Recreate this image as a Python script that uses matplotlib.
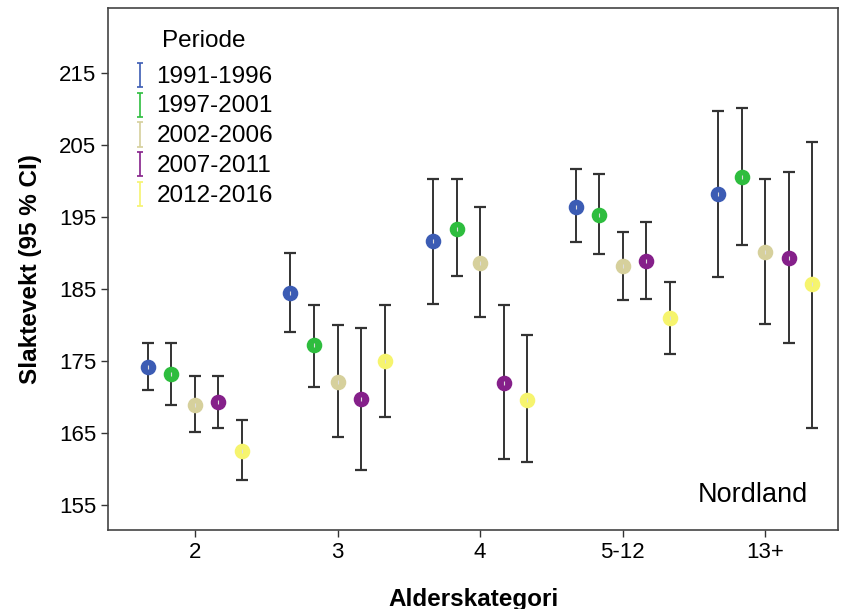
import numpy as np
import matplotlib.pyplot as plt

plt.rcParams["font.family"] = ["Liberation Sans", "DejaVu Sans"]

categories = ["2", "3", "4", "5-12", "13+"]
periods = ["1991-1996", "1997-2001", "2002-2006", "2007-2011", "2012-2016"]
colors = ["#3c5cb4", "#2ebd3e", "#d6d09c", "#85208a", "#f6f46e"]

# mean, lower CI, upper CI per period (rows) and age category (columns)
means = [
    [174.2, 184.5, 191.7, 196.5, 198.2],
    [173.3, 177.3, 193.4, 195.3, 200.6],
    [169.0, 172.2, 188.7, 188.3, 190.2],
    [169.3, 169.8, 172.0, 188.9, 189.4],
    [162.5, 175.0, 169.7, 181.0, 185.7],
]
lower = [
    [171.0, 179.1, 183.0, 191.6, 186.7],
    [169.0, 171.5, 186.9, 189.9, 191.1],
    [165.2, 164.5, 181.1, 183.5, 180.2],
    [165.8, 159.9, 161.5, 183.6, 177.5],
    [158.5, 167.3, 161.0, 176.0, 165.7],
]
upper = [
    [177.6, 190.0, 200.3, 201.7, 209.8],
    [177.6, 182.9, 200.3, 201.0, 210.2],
    [173.0, 180.0, 196.4, 193.0, 200.3],
    [173.0, 179.7, 182.9, 194.4, 201.3],
    [166.8, 182.9, 178.6, 186.0, 205.5],
]

offsets = [-0.33, -0.165, 0.0, 0.165, 0.33]

fig = plt.figure(figsize=(8.5, 6.09), dpi=100)
ax = fig.add_axes([0.127, 0.13, 0.859, 0.857])

x = np.arange(len(categories))
for i, p in enumerate(periods):
    m = np.array(means[i])
    lo = m - np.array(lower[i])
    hi = np.array(upper[i]) - m
    ax.errorbar(x + offsets[i], m, yerr=[lo, hi], fmt="none", ecolor="#333333",
                elinewidth=1.4, capsize=4.5, capthick=1.6, zorder=2)
    ax.plot(x + offsets[i], m, "o", ms=10, mfc=colors[i], mec=colors[i],
            mew=1.2, zorder=3)
    ax.plot(x + offsets[i], m, "|", ms=3, color="#dddddd", mew=0.8, zorder=4)
    # legend proxy
    ax.errorbar([np.nan], [np.nan], yerr=[[1], [1]], fmt="none", ecolor=colors[i],
                elinewidth=1.2, capsize=2.5, capthick=1.2, label=p)

ax.set_xlim(-0.61, 4.51)
ax.set_ylim(151.6, 224.1)
ax.set_xticks(x)
ax.set_xticklabels(categories)
ax.set_yticks([155, 165, 175, 185, 195, 205, 215])
ax.tick_params(labelsize=16, length=5, width=1, color="#333333")
for s in ax.spines.values():
    s.set_color("#444444")
    s.set_linewidth(1.2)

ax.set_xlabel("Alderskategori", fontsize=17.5, fontweight="bold", labelpad=18)
ax.set_ylabel("Slaktevekt (95 % CI)", fontsize=17.5, fontweight="bold", labelpad=12)

ax.text(4.30, 156.4, "Nordland", fontsize=19.5, ha="right", va="center")

leg = ax.legend(title="Periode", loc="upper left", frameon=False, fontsize=17.5,
                title_fontsize=17.5, handlelength=0.5, handleheight=0.5,
                handletextpad=0.45, labelspacing=0.32,
                bbox_to_anchor=(0.005, 1.0))
leg._legend_box.sep = 10

fig.savefig("out.png", dpi=100)
